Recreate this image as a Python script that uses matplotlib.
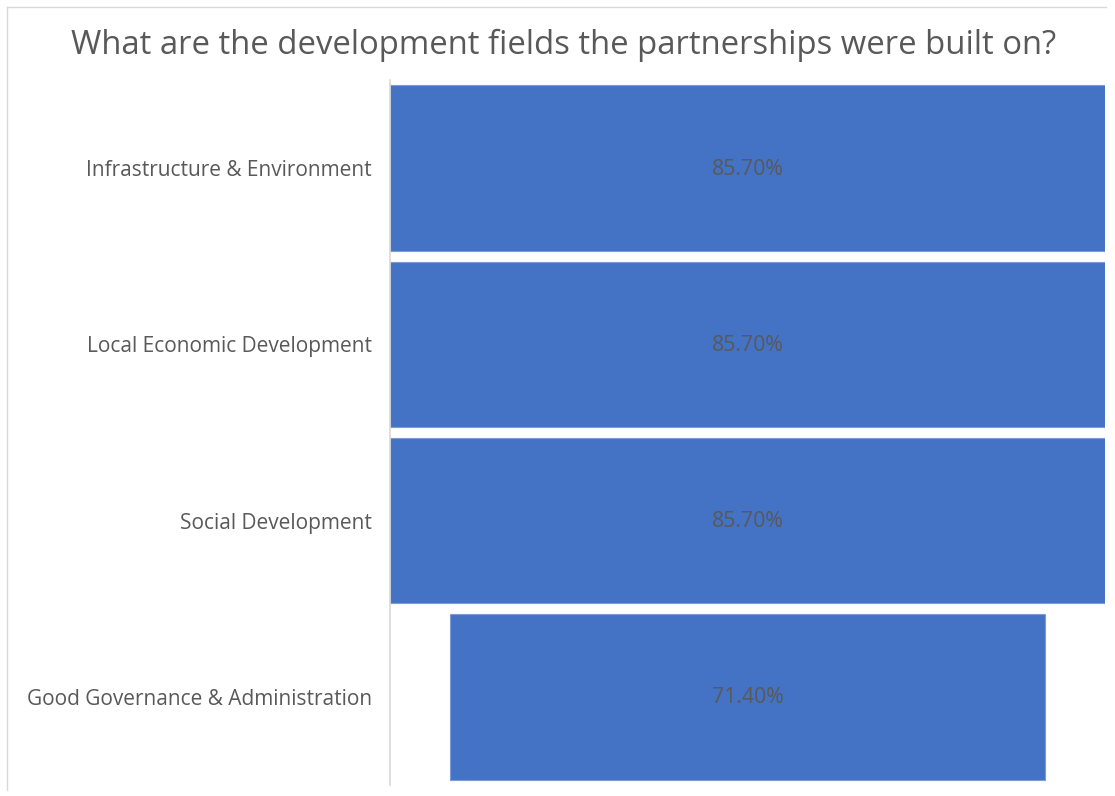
import matplotlib
matplotlib.use("Agg")
import matplotlib.pyplot as plt
from matplotlib.lines import Line2D

categories = [
    "Infrastructure & Environment",
    "Local Economic Development",
    "Social Development",
    "Good Governance & Administration",
]
values = [85.70, 85.70, 85.70, 71.40]
value_labels = ["85.70%", "85.70%", "85.70%", "71.40%"]

plt.rcParams['font.family'] = ['Open Sans', 'DejaVu Sans']

W, H = 1115, 796
fig = plt.figure(figsize=(W / 100, H / 100), dpi=100)
fig.patch.set_facecolor("white")

# chart frame (top and left edges)
fig.add_artist(Line2D([7 / W, 1106 / W], [1 - 7 / H, 1 - 7 / H],
                      transform=fig.transFigure, color="#d9d9d9", lw=1))
fig.add_artist(Line2D([7 / W, 7 / W], [1 - 7 / H, 1 - 790 / H],
                      transform=fig.transFigure, color="#d9d9d9", lw=1))

ax_left, ax_right = 390 / W, 1105 / W
ax_top, ax_bottom = 80 / H, 785 / H
ax = fig.add_axes([ax_left, 1 - ax_bottom, ax_right - ax_left, ax_bottom - ax_top])

vmax = max(values)
ypos = list(range(len(categories)))
lefts = [-v / 2 for v in values]
ax.barh(ypos, values, left=lefts, height=0.94, color="#4472C4",
        edgecolor="#7b9bd6", linewidth=0.8)

for y, lab in zip(ypos, value_labels):
    ax.text(0, y + 0.005, lab, ha="center", va="center", fontsize=15.3, color="#595959")

ax.set_xlim(-vmax / 2, vmax / 2)
ax.set_ylim(len(categories) - 0.5, -0.5)
ax.set_yticks(ypos)
ax.set_yticklabels(categories, fontsize=15, color="#595959")
ax.tick_params(axis="y", length=0, pad=13)
ax.set_xticks([])
for s in ["top", "right", "bottom"]:
    ax.spines[s].set_visible(False)
ax.spines["left"].set_color("#d9d9d9")
ax.spines["left"].set_linewidth(1.2)

fig.text(564 / W, 1 - 45 / H, "What are the development fields the partnerships were built on?",
         ha="center", va="center", fontsize=23.7, color="#595959")

fig.savefig("out.png", dpi=100, facecolor="white")
